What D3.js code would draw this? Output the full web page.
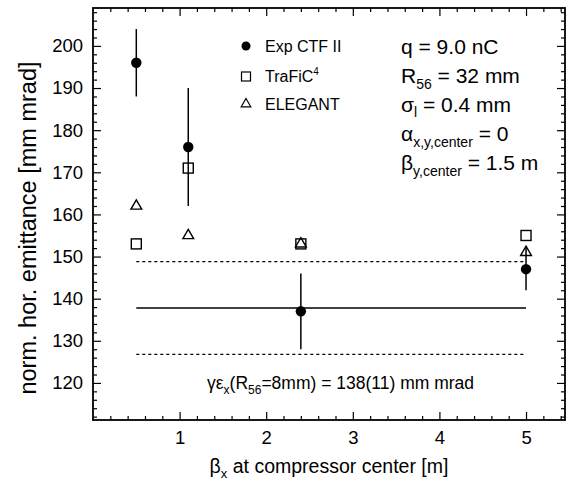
<!DOCTYPE html>
<html>
<head>
<meta charset="utf-8">
<script src="https://cdnjs.cloudflare.com/ajax/libs/d3/7.8.5/d3.min.js"></script>
<style>
  body { margin: 0; background: #fff; }
  svg { font-family: "Liberation Sans", Arial, sans-serif; }
</style>
</head>
<body>
<div id="chart"></div>
<script>
// data
var betaX = [0.5, 1.1, 2.4, 5.0];
var expCTF = [196, 176, 137, 147];
var expErr = [8, 14, 9, 5];
var trafic = [153, 171, 153, 155];
var elegant = [162, 155, 153, 151];
var meanEmit = 137.8;      // R56 = 8mm reference
var meanErr = 11;
var lineRange = [0.5, 5.0];

var xTicks = [1, 2, 3, 4, 5];
var yTicks = [120, 130, 140, 150, 160, 170, 180, 190, 200];

var svgWidth = 570;
var svgHeight = 488;
var margin = { top: 8, bottom: 68, left: 93, right: 5 };

var svg = d3.select("#chart").append("svg")
    .attr("width", svgWidth)
    .attr("height", svgHeight);

var x = d3.scaleLinear().domain([0, 5.45]).range([margin.left, svgWidth - margin.right]);
var y = d3.scaleLinear().domain([111.2, 209]).range([svgHeight - margin.bottom, margin.top]);

var x0 = x.range()[0], x1 = x.range()[1];
var y0 = y.range()[0], y1 = y.range()[1];

// minor tick values
var xMinor = d3.range(0.2, 5.45, 0.2).filter(function (d) { return Math.abs(d - Math.round(d)) > 0.01; });
var yMinor = d3.range(112, 209, 2).filter(function (d) { return d % 10 != 0; });

// axes with inward ticks
function styleAxis(g) {
    g.select(".domain").remove();
    g.selectAll("line").attr("stroke", "#000").attr("stroke-width", 1.2);
    g.selectAll("text").attr("fill", "#000").style("font-size", "18.5px");
}

svg.append("g").attr("transform", "translate(0," + y0 + ")")
    .call(d3.axisBottom(x).tickValues(xTicks).tickSize(-8).tickPadding(11).tickFormat(d3.format("d")))
    .call(styleAxis);
svg.append("g").attr("transform", "translate(0," + y0 + ")")
    .call(d3.axisBottom(x).tickValues(xMinor).tickSize(-4).tickFormat(""))
    .call(styleAxis);
svg.append("g").attr("transform", "translate(0," + y1 + ")")
    .call(d3.axisTop(x).tickValues(xTicks).tickSize(-8).tickFormat(""))
    .call(styleAxis);
svg.append("g").attr("transform", "translate(0," + y1 + ")")
    .call(d3.axisTop(x).tickValues(xMinor).tickSize(-4).tickFormat(""))
    .call(styleAxis);

svg.append("g").attr("transform", "translate(" + x0 + ",0)")
    .call(d3.axisLeft(y).tickValues(yTicks).tickSize(-8).tickPadding(10).tickFormat(d3.format("d")))
    .call(styleAxis);
svg.append("g").attr("transform", "translate(" + x0 + ",0)")
    .call(d3.axisLeft(y).tickValues(yMinor).tickSize(-4).tickFormat(""))
    .call(styleAxis);
svg.append("g").attr("transform", "translate(" + x1 + ",0)")
    .call(d3.axisRight(y).tickValues(yTicks).tickSize(-8).tickFormat(""))
    .call(styleAxis);
svg.append("g").attr("transform", "translate(" + x1 + ",0)")
    .call(d3.axisRight(y).tickValues(yMinor).tickSize(-4).tickFormat(""))
    .call(styleAxis);

// frame
svg.append("rect")
    .attr("x", x0).attr("y", y1)
    .attr("width", x1 - x0).attr("height", y0 - y1)
    .attr("fill", "none").attr("stroke", "#000").attr("stroke-width", 1.8);

// mean line and band
svg.append("line")
    .attr("x1", x(lineRange[0])).attr("x2", x(lineRange[1]))
    .attr("y1", y(meanEmit)).attr("y2", y(meanEmit))
    .attr("stroke", "#000").attr("stroke-width", 1.5);
[meanEmit - meanErr, meanEmit + meanErr].forEach(function (v) {
    svg.append("line")
        .attr("x1", x(lineRange[0])).attr("x2", x(lineRange[1]))
        .attr("y1", y(v)).attr("y2", y(v))
        .attr("stroke", "#000").attr("stroke-width", 1.2)
        .attr("stroke-dasharray", "3,3");
});

// error bars
betaX.forEach(function (b, i) {
    svg.append("line")
        .attr("x1", x(b)).attr("x2", x(b))
        .attr("y1", y(expCTF[i] - expErr[i])).attr("y2", y(expCTF[i] + expErr[i]))
        .attr("stroke", "#000").attr("stroke-width", 1.5);
});

// TraFiC4 squares
betaX.forEach(function (b, i) {
    svg.append("rect")
        .attr("x", x(b) - 5).attr("y", y(trafic[i]) - 5)
        .attr("width", 10).attr("height", 10)
        .attr("fill", "none").attr("stroke", "#000").attr("stroke-width", 1.4);
});

// ELEGANT triangles
var tri = d3.symbol().type(d3.symbolTriangle).size(50);
betaX.forEach(function (b, i) {
    svg.append("path")
        .attr("d", tri)
        .attr("transform", "translate(" + x(b) + "," + y(elegant[i]) + ")")
        .attr("fill", "none").attr("stroke", "#000").attr("stroke-width", 1.4);
});

// Exp CTF II dots
betaX.forEach(function (b, i) {
    svg.append("circle")
        .attr("cx", x(b)).attr("cy", y(expCTF[i])).attr("r", 5.2)
        .attr("fill", "#000");
});

// legend
var legend = svg.append("g").style("font-size", "16px");
legend.append("circle").attr("cx", 246).attr("cy", 46).attr("r", 4.5).attr("fill", "#000");
legend.append("text").attr("x", 265).attr("y", 52).text("Exp CTF II");
legend.append("rect").attr("x", 241.5).attr("y", 72).attr("width", 9).attr("height", 9)
    .attr("fill", "none").attr("stroke", "#000").attr("stroke-width", 1.2);
var t2 = legend.append("text").attr("x", 265).attr("y", 82).text("TraFiC");
t2.append("tspan").attr("dy", -7).style("font-size", "10px").text("4");
legend.append("path").attr("d", d3.symbol().type(d3.symbolTriangle).size(40))
    .attr("transform", "translate(246,104)")
    .attr("fill", "none").attr("stroke", "#000").attr("stroke-width", 1.2);
legend.append("text").attr("x", 265).attr("y", 110).text("ELEGANT");

// parameters
var params = svg.append("g").style("font-size", "21px");
params.append("text").attr("x", 401).attr("y", 54).text("q = 9.0 nC");
var p2 = params.append("text").attr("x", 401).attr("y", 83).text("R");
p2.append("tspan").attr("dy", 6).style("font-size", "14px").text("56");
p2.append("tspan").attr("dy", -6).text(" = 32 mm");
var p3 = params.append("text").attr("x", 401).attr("y", 112).text("σ");
p3.append("tspan").attr("dy", 5).style("font-size", "14px").text("l");
p3.append("tspan").attr("dy", -5).text(" = 0.4 mm");
var p4 = params.append("text").attr("x", 401).attr("y", 141).text("α");
p4.append("tspan").attr("dy", 6).style("font-size", "14px").text("x,y,center");
p4.append("tspan").attr("dy", -6).text(" = 0");
var p5 = params.append("text").attr("x", 401).attr("y", 170).text("β");
p5.append("tspan").attr("dy", 6).style("font-size", "14px").text("y,center");
p5.append("tspan").attr("dy", -6).text(" = 1.5 m");

// annotation
var ann = svg.append("text").attr("x", 207).attr("y", 389).style("font-size", "17.5px").text("γε");
ann.append("tspan").attr("dy", 5).style("font-size", "12px").text("x");
ann.append("tspan").attr("dy", -5).text("(R");
ann.append("tspan").attr("dy", 5).style("font-size", "12px").text("56");
ann.append("tspan").attr("dy", -5).text("=8mm) = 138(11) mm mrad");

// axis titles
var xl = svg.append("text").attr("x", 329).attr("y", 473)
    .attr("text-anchor", "middle").style("font-size", "19.5px").text("β");
xl.append("tspan").attr("dy", 5).style("font-size", "13px").text("x");
xl.append("tspan").attr("dy", -5).text(" at compressor center  [m]");

svg.append("text")
    .attr("transform", "translate(36," + 228 + ") rotate(-90)")
    .attr("text-anchor", "middle").style("font-size", "23.5px")
    .text("norm. hor. emittance  [mm mrad]");
</script>
</body>
</html>
